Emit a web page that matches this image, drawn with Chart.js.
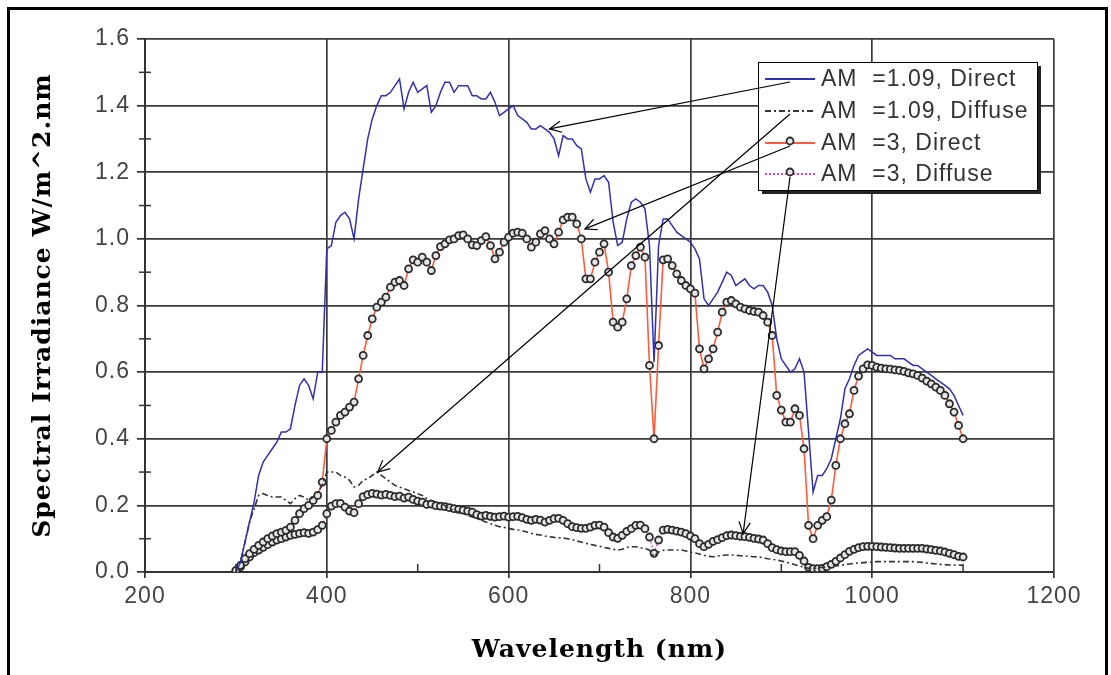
<!DOCTYPE html>
<html>
<head>
<meta charset="utf-8">
<script src="https://cdn.jsdelivr.net/npm/chart.js@4.4.0/dist/chart.umd.min.js"></script>
<style>
  html, body { margin: 0; padding: 0; background: #fff; }
  #wrap { position: relative; width: 1111px; height: 675px; }
</style>
</head>
<body>
<div id="wrap"><canvas id="grafico" width="1111" height="675"></canvas></div>
<script>
// wavelength (nm), every 5 nm
const wavelength = [
  300, 305, 310, 315, 320, 325, 330, 335, 340, 345,
  350, 355, 360, 365, 370, 375, 380, 385, 390, 395,
  400, 405, 410, 415, 420, 425, 430, 435, 440, 445,
  450, 455, 460, 465, 470, 475, 480, 485, 490, 495,
  500, 505, 510, 515, 520, 525, 530, 535, 540, 545,
  550, 555, 560, 565, 570, 575, 580, 585, 590, 595,
  600, 605, 610, 615, 620, 625, 630, 635, 640, 645,
  650, 655, 660, 665, 670, 675, 680, 685, 690, 695,
  700, 705, 710, 715, 720, 725, 730, 735, 740, 745,
  750, 755, 760, 765, 770, 775, 780, 785, 790, 795,
  800, 805, 810, 815, 820, 825, 830, 835, 840, 845,
  850, 855, 860, 865, 870, 875, 880, 885, 890, 895,
  900, 905, 910, 915, 920, 925, 930, 935, 940, 945,
  950, 955, 960, 965, 970, 975, 980, 985, 990, 995,
  1000, 1005, 1010, 1015, 1020, 1025, 1030, 1035, 1040, 1045,
  1050, 1055, 1060, 1065, 1070, 1075, 1080, 1085, 1090, 1095,
  1100
];

const am109Direct = [
  0.00, 0.03, 0.09, 0.15, 0.21, 0.29, 0.33, 0.35, 0.37, 0.39,
  0.42, 0.42, 0.43, 0.50, 0.56, 0.58, 0.56, 0.52, 0.60, 0.60,
  0.97, 0.98, 1.05, 1.07, 1.08, 1.06, 1.00, 1.12, 1.21, 1.30,
  1.36, 1.40, 1.43, 1.43, 1.44, 1.46, 1.48, 1.39, 1.44, 1.47,
  1.44, 1.45, 1.46, 1.38, 1.40, 1.44, 1.47, 1.47, 1.44, 1.46,
  1.46, 1.46, 1.43, 1.43, 1.42, 1.42, 1.44, 1.41, 1.37, 1.38,
  1.39, 1.40, 1.37, 1.36, 1.35, 1.33, 1.33, 1.34, 1.33, 1.32,
  1.30, 1.25, 1.31, 1.30, 1.30, 1.28, 1.27, 1.18, 1.14, 1.18,
  1.18, 1.19, 1.17, 1.05, 0.98, 0.99, 1.06, 1.11, 1.12, 1.11,
  1.09, 0.98, 0.63, 0.98, 1.06, 1.06, 1.04, 1.02, 1.01, 1.00,
  0.99, 0.97, 0.94, 0.82, 0.80, 0.82, 0.84, 0.87, 0.90, 0.89,
  0.86, 0.87, 0.88, 0.86, 0.85, 0.86, 0.86, 0.84, 0.80, 0.70,
  0.64, 0.62, 0.60, 0.61, 0.64, 0.60, 0.42, 0.24, 0.29, 0.29,
  0.31, 0.34, 0.40, 0.46, 0.55, 0.58, 0.62, 0.65, 0.66, 0.67,
  0.66, 0.65, 0.65, 0.65, 0.65, 0.64, 0.64, 0.64, 0.63, 0.62,
  0.62, 0.61, 0.60, 0.59, 0.58, 0.57, 0.56, 0.55, 0.53, 0.50,
  0.47
];

const am109Diffuse = [
  0.00, 0.03, 0.09, 0.15, 0.19, 0.23, 0.235, 0.23, 0.225, 0.225,
  0.225, 0.215, 0.205, 0.22, 0.23, 0.225, 0.215, 0.225, 0.24, 0.26,
  0.30, 0.30, 0.30, 0.29, 0.285, 0.275, 0.255, 0.26, 0.275, 0.28,
  0.29, 0.30, 0.29, 0.28, 0.27, 0.26, 0.255, 0.25, 0.245, 0.24,
  0.235, 0.23, 0.22, 0.215, 0.21, 0.205, 0.20, 0.19, 0.185, 0.18,
  0.175, 0.17, 0.165, 0.16, 0.155, 0.15, 0.145, 0.14, 0.136, 0.134,
  0.131, 0.128, 0.126, 0.124, 0.12, 0.116, 0.113, 0.111, 0.108, 0.106,
  0.104, 0.103, 0.102, 0.10, 0.097, 0.093, 0.09, 0.086, 0.083, 0.08,
  0.077, 0.074, 0.071, 0.068, 0.066, 0.068, 0.074, 0.076, 0.076, 0.073,
  0.07, 0.066, 0.046, 0.06, 0.065, 0.066, 0.066, 0.066, 0.066, 0.063,
  0.06, 0.057, 0.054, 0.05, 0.047, 0.046, 0.048, 0.05, 0.051, 0.051,
  0.05, 0.049, 0.048, 0.047, 0.046, 0.045, 0.043, 0.04, 0.038, 0.036,
  0.033, 0.03, 0.026, 0.022, 0.018, 0.014, 0.011, 0.011, 0.012, 0.014,
  0.015, 0.016, 0.018, 0.02, 0.022, 0.024, 0.026, 0.027, 0.028, 0.029,
  0.03, 0.031, 0.031, 0.031, 0.031, 0.031, 0.031, 0.031, 0.031, 0.031,
  0.03, 0.029, 0.027, 0.026, 0.024, 0.023, 0.022, 0.021, 0.021, 0.021,
  0.02
];

const am3Direct = [
  0.005, 0.02, 0.04, 0.055, 0.068, 0.08, 0.09, 0.10, 0.108, 0.115,
  0.12, 0.125, 0.135, 0.155, 0.175, 0.19, 0.20, 0.215, 0.23, 0.27,
  0.40, 0.425, 0.45, 0.47, 0.48, 0.495, 0.51, 0.58, 0.65, 0.71,
  0.76, 0.795, 0.81, 0.825, 0.855, 0.87, 0.875, 0.86, 0.91, 0.937,
  0.93, 0.945, 0.93, 0.905, 0.95, 0.977, 0.985, 0.997, 1.0, 1.01,
  1.012, 1.0, 0.982, 0.98, 0.995, 1.007, 0.98, 0.94, 0.96, 0.99,
  1.005, 1.017, 1.02, 1.017, 1.0, 0.975, 0.99, 1.015, 1.025, 1.0,
  0.985, 1.02, 1.057, 1.065, 1.065, 1.045, 1.0, 0.88, 0.88, 0.93,
  0.96, 0.985, 0.9, 0.75, 0.735, 0.75, 0.82, 0.92, 0.95, 0.975,
  0.945, 0.62, 0.40, 0.68, 0.937, 0.94, 0.92, 0.895, 0.875, 0.86,
  0.85, 0.837, 0.67, 0.61, 0.64, 0.67, 0.72, 0.78, 0.81, 0.815,
  0.805, 0.795, 0.79, 0.785, 0.782, 0.78, 0.77, 0.75, 0.71, 0.53,
  0.486, 0.45, 0.45, 0.49, 0.47, 0.37, 0.14, 0.10, 0.14, 0.155,
  0.166, 0.216, 0.32, 0.40, 0.445, 0.475, 0.545, 0.588, 0.61, 0.622,
  0.62, 0.615, 0.612, 0.61, 0.609, 0.607, 0.605, 0.602, 0.598, 0.595,
  0.59, 0.582, 0.573, 0.565, 0.555, 0.545, 0.53, 0.505, 0.48, 0.44,
  0.40
];

const am3Diffuse = [
  0.003, 0.015, 0.03, 0.045, 0.058, 0.066, 0.074, 0.082, 0.09, 0.096,
  0.10, 0.105, 0.11, 0.113, 0.116, 0.118, 0.116, 0.12, 0.127, 0.14,
  0.175, 0.198, 0.205, 0.206, 0.195, 0.183, 0.178, 0.205, 0.226, 0.232,
  0.236, 0.234, 0.231, 0.233, 0.23, 0.226, 0.228, 0.222, 0.225, 0.218,
  0.213, 0.21, 0.203, 0.204, 0.199, 0.198, 0.196, 0.193, 0.19, 0.188,
  0.186, 0.183, 0.18, 0.172, 0.168, 0.17, 0.167, 0.165, 0.166, 0.168,
  0.165, 0.166, 0.167, 0.163, 0.158, 0.155, 0.158, 0.156, 0.15, 0.155,
  0.16, 0.161, 0.155, 0.145, 0.136, 0.133, 0.131, 0.131, 0.135, 0.14,
  0.141, 0.135, 0.118, 0.105, 0.101, 0.11, 0.122, 0.13, 0.14, 0.141,
  0.13, 0.105, 0.056, 0.096, 0.126, 0.128, 0.126, 0.123, 0.12, 0.115,
  0.108, 0.10, 0.085, 0.076, 0.083, 0.092, 0.097, 0.103, 0.109, 0.111,
  0.109, 0.107, 0.106, 0.104, 0.101, 0.099, 0.096, 0.085, 0.073, 0.067,
  0.063, 0.061, 0.061, 0.061, 0.05, 0.033, 0.014, 0.01, 0.01, 0.011,
  0.016, 0.023, 0.032, 0.042, 0.052, 0.062, 0.068, 0.073, 0.076, 0.077,
  0.077, 0.076, 0.075, 0.074, 0.073, 0.072, 0.071, 0.071, 0.071, 0.071,
  0.071, 0.071, 0.069, 0.067, 0.065, 0.063, 0.06, 0.056, 0.052, 0.047,
  0.045
];

const legendLabels = ['AM  =1.09, Direct', 'AM  =1.09, Diffuse', 'AM  =3, Direct', 'AM  =3, Diffuse'];

const xTicks = [200, 400, 600, 800, 1000, 1200];
const xMinorTicks = [300, 500, 700, 900, 1100];
const yTicks = [0, 0.2, 0.4, 0.6, 0.8, 1.0, 1.2, 1.4, 1.6];
const yMinorTicks = [0.1, 0.3, 0.5, 0.7, 0.9, 1.1, 1.3, 1.5];

// arrow tips (wavelength, irradiance) pointing from each legend entry to its curve
const arrowTips = [[645, 1.33], [456, 0.30], [684, 1.03], [858, 0.115]];

const fonteEixo = 'Liberation Sans, Arial, sans-serif';
const fonteTitulo = 'DejaVu Serif, serif';

function pontos(valores) {
  return wavelength.map((w, i) => ({ x: w, y: valores[i] }));
}

const extras = {
  id: 'extras',
  beforeDraw(chart) {
    // the original lettering is set wide
    chart.ctx.letterSpacing = '1px';
  },
  afterDatasetsDraw(chart) {
    const { ctx, scales: { x, y } } = chart;
    ctx.save();
    ctx.strokeStyle = '#333';
    ctx.lineWidth = 1.5;
    xMinorTicks.forEach(v => {
      const px = x.getPixelForValue(v);
      ctx.beginPath();
      ctx.moveTo(px, y.bottom);
      ctx.lineTo(px, y.bottom - 8);
      ctx.stroke();
    });
    yMinorTicks.forEach(v => {
      const py = y.getPixelForValue(v);
      ctx.beginPath();
      ctx.moveTo(x.left - 6, py);
      ctx.lineTo(x.left + 6, py);
      ctx.stroke();
    });
    ctx.restore();
  },
  afterDraw(chart) {
    const { ctx, scales: { x, y } } = chart;
    ctx.save();

    // legend box with shadow
    const lx = 758, ly = 62, lw = 279, lh = 128;
    ctx.fillStyle = '#222';
    ctx.fillRect(lx + 4, ly + 4, lw, lh);
    ctx.fillStyle = '#fff';
    ctx.fillRect(lx, ly, lw, lh);
    ctx.strokeStyle = '#000';
    ctx.lineWidth = 1;
    ctx.strokeRect(lx + 0.5, ly + 0.5, lw, lh);

    const linhas = [79, 111, 143, 174];
    const starts = [];
    chart.data.datasets.forEach((ds, i) => {
      const ry = linhas[i];
      ctx.save();
      ctx.strokeStyle = ds.borderColor;
      ctx.lineWidth = 2;
      ctx.setLineDash(ds.borderDash || []);
      ctx.beginPath();
      ctx.moveTo(765, ry);
      ctx.lineTo(815, ry);
      ctx.stroke();
      ctx.setLineDash([]);
      if (ds.pointRadius > 0) {
        ctx.fillStyle = ds.pointBackgroundColor;
        ctx.strokeStyle = ds.pointBorderColor;
        ctx.lineWidth = ds.pointBorderWidth;
        ctx.beginPath();
        ctx.arc(790, ry - 2, ds.pointRadius, 0, Math.PI * 2);
        ctx.fill();
        ctx.stroke();
      }
      ctx.restore();
      ctx.fillStyle = '#333';
      ctx.font = '23px ' + fonteEixo;
      ctx.letterSpacing = '1px';
      ctx.textBaseline = 'middle';
      ctx.fillText(ds.label, 821, ry + 1);
      starts.push([790, ry + 3]);
    });

    // arrows
    ctx.strokeStyle = '#000';
    ctx.lineWidth = 1.2;
    arrowTips.forEach((tip, i) => {
      const [sx, sy] = starts[i];
      const tx = x.getPixelForValue(tip[0]);
      const ty = y.getPixelForValue(tip[1]);
      const ang = Math.atan2(ty - sy, tx - sx);
      ctx.beginPath();
      ctx.moveTo(sx, sy);
      ctx.lineTo(tx, ty);
      ctx.stroke();
      const len = 13, abre = 0.45;
      ctx.beginPath();
      ctx.moveTo(tx - len * Math.cos(ang - abre), ty - len * Math.sin(ang - abre));
      ctx.lineTo(tx, ty);
      ctx.lineTo(tx - len * Math.cos(ang + abre), ty - len * Math.sin(ang + abre));
      ctx.stroke();
    });

    // outer frame
    ctx.fillStyle = '#000';
    ctx.fillRect(7, 7, 3, 668);
    ctx.fillRect(7, 7, 1101, 3);
    ctx.fillRect(1105, 7, 3, 668);
    ctx.restore();
    ctx.letterSpacing = '0px';
  }
};

function gerarGrafico() {
  const ctx = document.getElementById('grafico').getContext('2d');
  new Chart(ctx, {
    type: 'line',
    data: {
      datasets: [{
        label: legendLabels[0],
        data: pontos(am109Direct),
        borderColor: '#3030b0',
        borderWidth: 1.5,
        pointRadius: 0
      }, {
        label: legendLabels[1],
        data: pontos(am109Diffuse),
        borderColor: '#333',
        borderWidth: 1.6,
        borderDash: [6, 3, 2, 3],
        pointRadius: 0
      }, {
        label: legendLabels[2],
        data: pontos(am3Direct),
        borderColor: '#ff5a3c',
        borderWidth: 1.6,
        pointRadius: 3.5,
        pointBorderColor: '#2a2a2a',
        pointBorderWidth: 1.8,
        pointBackgroundColor: '#e6e6e6'
      }, {
        label: legendLabels[3],
        data: pontos(am3Diffuse),
        borderColor: '#e040e0',
        borderWidth: 1.4,
        borderDash: [2, 2],
        pointRadius: 3.5,
        pointBorderColor: '#2a2a2a',
        pointBorderWidth: 1.8,
        pointBackgroundColor: '#e6e6e6'
      }]
    },
    options: {
      responsive: false,
      animation: false,
      layout: { padding: { left: 8, top: 39, right: 57, bottom: 0 } },
      plugins: { legend: { display: false }, tooltip: { enabled: false } },
      scales: {
        x: {
          type: 'linear',
          min: 200,
          max: 1200,
          afterBuildTicks: eixo => { eixo.ticks = xTicks.map(v => ({ value: v })); },
          afterFit: eixo => { eixo.height = 103; },
          grid: { color: '#3a3a3a', lineWidth: 1.7, tickLength: 6, tickColor: '#333' },
          border: { color: '#333', width: 2 },
          ticks: { color: '#444', font: { family: fonteEixo, size: 23 }, padding: 5, maxRotation: 0, callback: v => String(v) },
          title: { display: true, text: 'Wavelength (nm)', color: '#000', font: { family: fonteTitulo, size: 25, weight: 'bold' }, padding: { top: 0, bottom: 10 } }
        },
        y: {
          min: 0,
          max: 1.6,
          afterBuildTicks: eixo => { eixo.ticks = yTicks.map(v => ({ value: v })); },
          afterFit: eixo => { eixo.width = 137; },
          grid: { color: '#3a3a3a', lineWidth: 1.7, tickLength: 8, tickColor: '#333' },
          border: { color: '#333', width: 2 },
          ticks: { color: '#444', font: { family: fonteEixo, size: 23 }, padding: 7, callback: v => v.toFixed(1) },
          title: { display: true, text: 'Spectral Irradiance W/m^2.nm', color: '#000', font: { family: fonteTitulo, size: 25, weight: 'bold' }, padding: { top: 20, bottom: 0 } }
        }
      }
    },
    plugins: [extras]
  });
}

document.addEventListener('DOMContentLoaded', () => {
  gerarGrafico();
});
</script>
</body>
</html>
